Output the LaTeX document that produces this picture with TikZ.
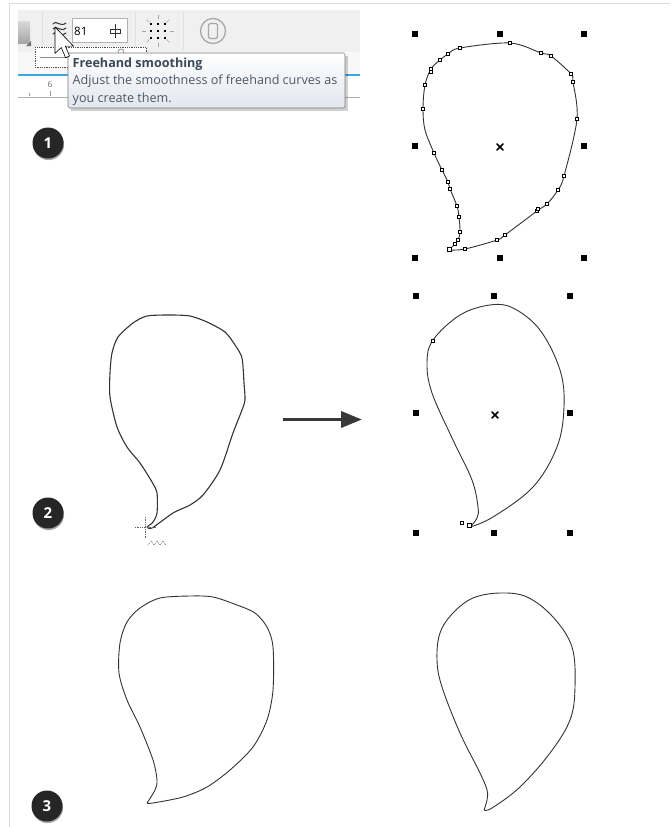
\documentclass[tikz,border=0pt]{standalone}
\usepackage{fontspec}
\setmainfont{Open Sans}
\usetikzlibrary{arrows.meta,shadows,calc}

\definecolor{frameline}{HTML}{DCDCDC}
\definecolor{barbg}{HTML}{F0F0F0}
\definecolor{rulerbg}{HTML}{F8F8F8}
\definecolor{rulerblue}{HTML}{3DA5E0}
\definecolor{tiptitle}{HTML}{3B4856}
\definecolor{tiptext}{HTML}{4C5866}
\definecolor{tipedge}{HTML}{7A7A7A}
\definecolor{tiptop}{HTML}{FFFFFF}
\definecolor{tipbottom}{HTML}{E2E6EE}
\definecolor{penline}{HTML}{333333}
\definecolor{iconGray}{HTML}{A8A8A8}
\definecolor{badgefill}{HTML}{262626}

\tikzset{
  outline/.style={draw=penline, line width=1.1pt, line join=round, line cap=round},
  handle/.style={rectangle, fill=black, minimum size=6.5pt, inner sep=0pt},
  nodemark/.style={rectangle, draw=black, fill=white, line width=0.5pt, minimum size=3.2pt, inner sep=0pt},
  badge/.style={circle, fill=badgefill, minimum size=31pt, inner sep=0pt, text=white,
    font=\bfseries\fontsize{15}{15}\selectfont,
    drop shadow={shadow xshift=0.6pt, shadow yshift=-1.6pt, opacity=0.35, fill=black}},
  separator/.style={draw=black!12, line width=0.8pt},
  centermark/.style={line width=1.6pt, line cap=round},
}

\newcommand{\centerX}[1]{%
  \draw[centermark] ($(#1)+(-3,-3)$) -- ($(#1)+(3,3)$);
  \draw[centermark] ($(#1)+(-3,3)$) -- ($(#1)+(3,-3)$);}

\begin{document}
\begin{tikzpicture}[x=1pt,y=-1pt]
\useasboundingbox (0,0) rectangle (670,827);
\fill[white] (0,0) rectangle (670,827);

% outer page frame
\draw[frameline, line width=0.8pt] (9.5,827) -- (9.5,3.5) -- (670,3.5);

% ---------------- toolbar ----------------
\fill[barbg] (18,10) rectangle (360,52);
\fill[rulerbg] (18,52) rectangle (360,75);
\draw[rulerblue, line width=1.2pt] (18,75) -- (360,75);
\fill[white] (18,76) rectangle (360,97);
\draw[black!30, line width=0.6pt] (18,97) -- (360,97);
\node[text=black!55, font=\fontsize{8.5}{8.5}\selectfont] (rulersix) at (50,84) {6};
\draw[black!40, line width=0.5pt] (29,93) -- (29,96) (50,91) -- (50,96) (71,93) -- (71,96);

% left (cut) icon
\shade[top color=black!15, bottom color=black!35] (18,21) rectangle (30,43);
\fill[black!55] (31,41) -- (31,46) -- (26,46) -- cycle;

\draw[separator] (42,12) -- (42,50);
\draw[separator] (135,12) -- (135,50);
\draw[separator] (183,12) -- (183,50);

% freehand smoothing icon
\foreach \k in {0,1,2}{
  \draw[black!75, line width=1.1pt, line cap=round]
    (53,{24+5*\k}) .. controls (56,{19+5*\k}) and (60,{28+5*\k}) .. (66,{23+5*\k});
}

% value box
\draw[black!30, fill=white, line width=0.6pt] (72,18) rectangle (127,42);
\node[anchor=west, inner sep=0pt, font=\fontsize{11.5}{11.5}\selectfont] (valuetext) at (74,31) {81};
\draw[black!80, line width=0.7pt] (115,24) -- (115,38);
\draw[black!80, line width=0.7pt] (110,29.5) rectangle (120,33);

% pick-nodes icon
\foreach \i in {-1,0,1}{
  \foreach \j in {-1,0,1}{
    \fill[black] ({158+7*\i-1.4},{31+7*\j-1.4}) rectangle ++(2.8,2.8);
  }
}
\foreach \a in {0,45,...,315}{
  \draw[black!35, line width=0.7pt] ($(158,31)+(\a:12)$) -- ($(158,31)+(\a:16)$);
}

% page icon
\draw[iconGray, line width=1.3pt] (213,31) circle[radius=12.5];
\draw[iconGray, line width=1.2pt, rounded corners=1.5pt] (208.5,23.5) rectangle (217.5,38.5);

% dotted slider popup
\draw[black!70, densely dotted, line width=0.8pt, fill=white] (35,47) rectangle (146,67);
\draw[black!45, line width=0.8pt] (40,57) -- (140,57);
\draw[black!45, line width=0.8pt, fill=white] (121,52) circle[radius=3];

% tooltip
\fill[black, opacity=0.18] (71,56) rectangle (348,111);
\shade[top color=tiptop, bottom color=tipbottom, draw=tipedge, line width=0.7pt, rounded corners=1.5pt]
  (68,53) rectangle (345,108);
\node[anchor=north west, inner sep=0pt, align=left, text=tiptext,
      font=\fontsize{12.6}{17.6}\selectfont] (tiptextnode) at (72.5,57.5)
  {{\bfseries\color{tiptitle}Freehand smoothing}\\
   Adjust the smoothness of freehand curves as\\
   you create them.};

% mouse pointer
\begin{scope}[shift={(55,27)}, scale=1.65]
  \draw[black, fill=white, line width=0.6pt, line join=round]
    (0,0) -- (0,16) -- (3.8,12.4) -- (6.4,18.6) -- (8.8,17.6) -- (6.3,11.6) -- (11.2,11.6) -- cycle;
\end{scope}

% ---------------- step badges ----------------
\node[badge] (badgeone) at (48,143) {1};
\node[badge] (badgetwo) at (48,513) {2};
\node[badge] (badgethree) at (47,806) {3};

% ---------------- step 1: traced curve with nodes ----------------
\draw[outline, line width=0.9pt] plot[smooth, tension=0.55] coordinates {
  (449,250) (455,244) (458,240) (460,232) (459,217) (457,206) (450,189) (448,182)
  (442,170) (434,153) (425,130) (423,109) (425,85) (431,69) (440,60) (448,54)
  (460,48) (510,43) (541,53) (551,56) (571,74) (573,82) (577,119) (564,176)
  (558,190) (547,204) (537,211) (505,235) (497,240) (465,249) (449,250)};
\foreach \p in {(455,244),(458,240),(460,232),(459,217),(457,206),(450,189),(448,182),
  (442,170),(434,153),(423,109),(425,85),(431,69),(431,72),(440,60),(448,54),
  (460,48),(510,43),(541,53),(551,56),(571,74),(573,82),(577,119),(564,176),
  (558,190),(547,204),(537,211),(538,209),(505,235),(497,240),(465,249)}{
  \node[nodemark] at \p {};
}
\node[nodemark, minimum size=4.5pt] (tipone) at (449,249) {};
\foreach \hx/\hy [count=\n] in {415/34,500/34,584/34,415/146,584/146,415/258,500/258,584/258}{
  \node[handle] (hA\n) at (\hx,\hy) {};
}
\coordinate (centreone) at (500,147);
\centerX{centreone}

% ---------------- step 2: freehand stroke ----------------
\draw[outline, line width=1.1pt] plot[smooth, tension=0.45] coordinates {
  (147,527) (153,522) (157,513) (157,493) (152,482) (140,463) (127,447) (117,427)
  (110,397) (110,373) (112,353) (118,337) (133,323) (147,316) (170,315) (190,316)
  (207,322) (225,332) (235,345) (242,358) (244,383) (245,400) (242,410) (233,433)
  (220,470) (203,495) (190,505) (173,513) (152,528) (147,527)};
% pen cursor
\draw[black!60, densely dotted, line width=0.7pt] (135,527) -- (157,527);
\draw[black!60, densely dotted, line width=0.7pt] (145,517) -- (145,538);
\draw[black!55, densely dotted, line width=0.7pt]
  (148,545) -- (151,541) -- (154,545) -- (157,541) -- (160,545) -- (163,541) -- (166,545);

% arrow between the two stages
\coordinate (arrowstart) at (283,419.5);
\coordinate (arrowend) at (362,419.5);
\draw[draw=black!78, line width=3.6pt, -{Triangle[length=21pt, width=16pt]}] (arrowstart) -- (arrowend);

% step 2: smoothed result
\draw[outline, line width=0.9pt] plot[smooth, tension=0.6] coordinates {
  (470,527) (477,518) (478,507) (472,480) (453,440) (432,393) (427,363) (433,340)
  (460,315) (490,305) (513,308) (540,330) (560,370) (564,407) (557,447) (533,487)
  (493,517) (470,527)};
\node[nodemark] (nodetop) at (433,341) {};
\node[nodemark] (nodelow) at (462,523) {};
\node[nodemark, minimum size=4pt] (nodetip) at (469,525) {};
\foreach \hx/\hy [count=\n] in {416/296,494/296,570/296,416/413,570/413,416/533,494/533,570/533}{
  \node[handle] (hB\n) at (\hx,\hy) {};
}
\coordinate (centretwo) at (495,415);
\centerX{centretwo}

% ---------------- step 3: comparison ----------------
\draw[outline, line width=0.9pt] plot[smooth, tension=0.5] coordinates {
  (147,803) (155,790) (157,780) (153,760) (140,727) (127,700) (119,673) (120,643)
  (127,622) (140,608) (160,598) (190,596) (213,597) (237,605) (255,613) (267,627)
  (273,647) (273,690) (267,720) (253,747) (230,770) (207,787) (183,797) (153,803) (147,803)};
\draw[outline, line width=0.9pt] plot[smooth, tension=0.6] coordinates {
  (484,810) (487,800) (487,790) (480,773) (460,733) (442,687) (437,660) (440,633)
  (453,613) (473,598) (500,593) (527,597) (553,617) (572,647) (575,687) (570,720)
  (550,753) (520,787) (492,808) (484,810)};
\end{tikzpicture}
\end{document}
